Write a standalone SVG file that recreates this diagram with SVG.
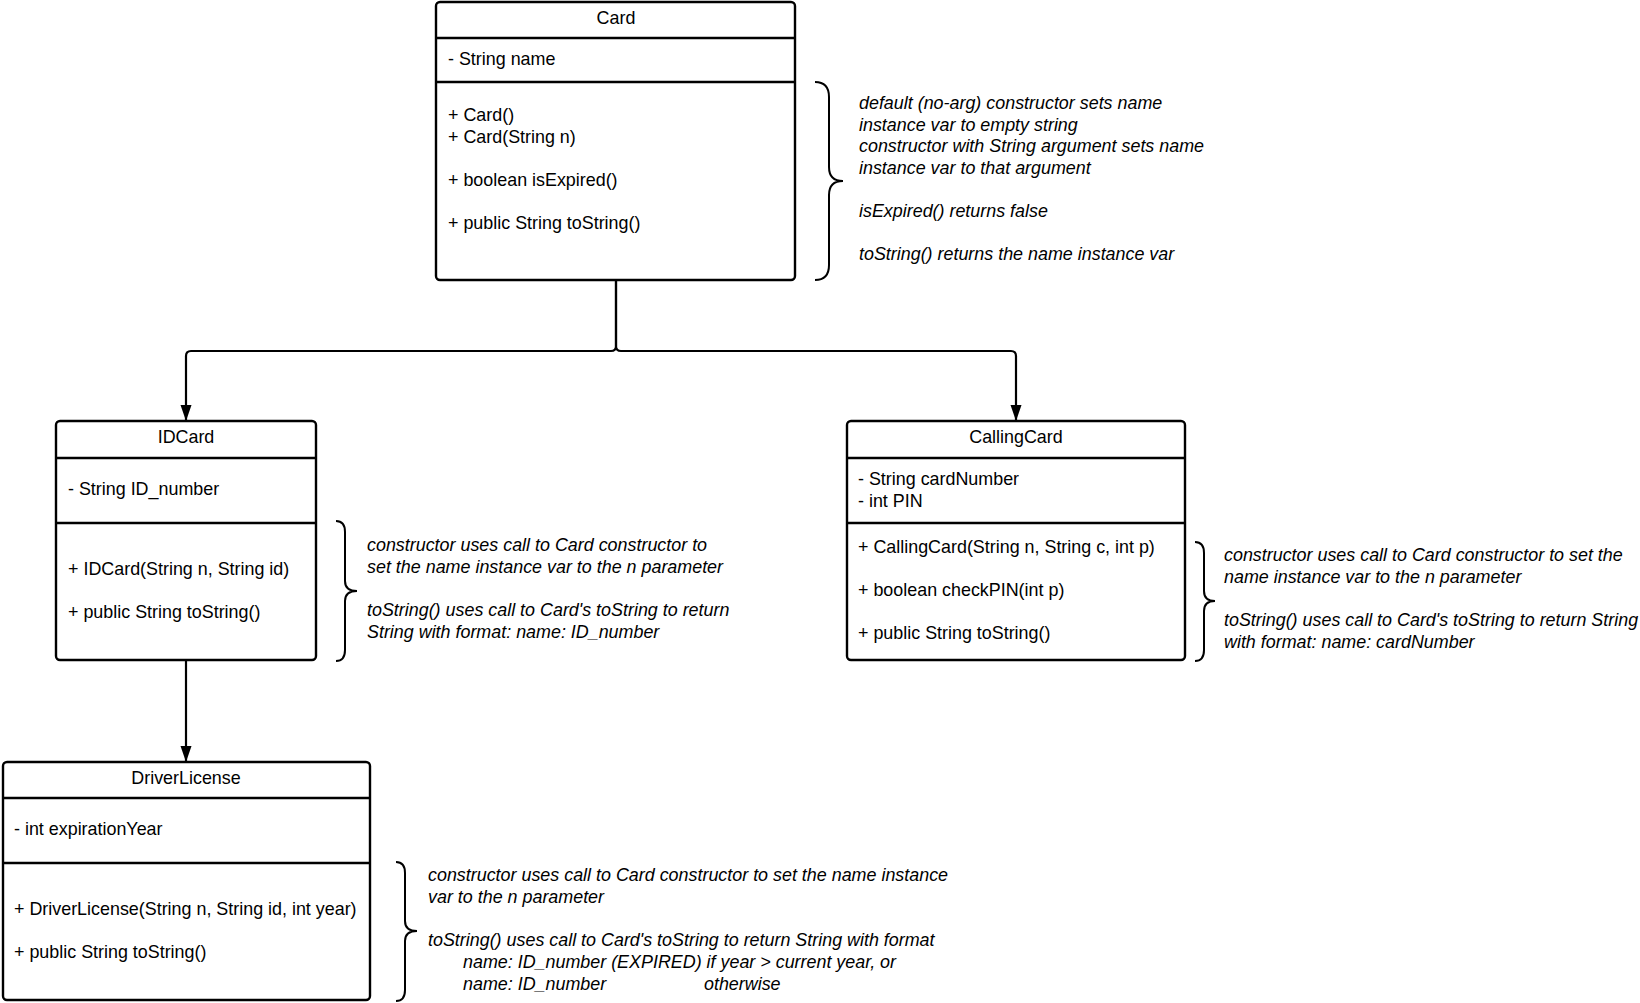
<svg xmlns="http://www.w3.org/2000/svg" width="1640" height="1003" viewBox="0 0 1640 1003">
<style>
  .box { fill: #ffffff; stroke: #000000; stroke-width: 2.4; }
  .div { stroke: #000000; stroke-width: 2.4; }
  .t { font-family: "Liberation Sans", Arial, sans-serif; font-size: 17.9px; fill: #000000; }
  .c { text-anchor: middle; }
  .n { font-family: "Liberation Sans", Arial, sans-serif; font-size: 17.9px; font-style: italic; fill: #000000; }
  .brace { fill: none; stroke: #000000; stroke-width: 2; }
  .conn { fill: none; stroke: #000000; stroke-width: 2.2; }
</style>
<defs>
  <marker id="arrow" viewBox="0 0 16 12" refX="16" refY="6" markerWidth="16" markerHeight="12" markerUnits="userSpaceOnUse" orient="auto">
    <path d="M0,0.5 L16,6 L0,11.5 Z" fill="#000000"/>
  </marker>
</defs>

<g id="connectors">
  <path class="conn" d="M616,281 V346 Q616,351 611,351 H191 Q186,351 186,356 V421" marker-end="url(#arrow)"/>
  <path class="conn" d="M616,281 V346 Q616,351 621,351 H1011 Q1016,351 1016,356 V421" marker-end="url(#arrow)"/>
  <path class="conn" d="M186,661 V762" marker-end="url(#arrow)"/>
</g>

<g id="Card">
  <rect class="box" x="436" y="2" width="359" height="278" rx="4"/>
  <line class="div" x1="436" y1="38" x2="795" y2="38"/>
  <line class="div" x1="436" y1="82" x2="795" y2="82"/>
  <text class="t c" x="616" y="24">Card</text>
  <text class="t" x="448" y="65">- String name</text>
  <text class="t" x="448" y="121">+ Card()</text>
  <text class="t" x="448" y="143">+ Card(String n)</text>
  <text class="t" x="448" y="186">+ boolean isExpired()</text>
  <text class="t" x="448" y="229">+ public String toString()</text>
</g>

<g id="CardNote">
  <path class="brace" d="M815,82 C824,82 829,87 829,97 V167 C829,176 834,181 843,181 C834,181 829,186 829,195 V265 C829,275 824,280 815,280"/>
  <text class="n" x="859" y="109">default (no-arg) constructor sets name</text>
  <text class="n" x="859" y="131">instance var to empty string</text>
  <text class="n" x="859" y="152">constructor with String argument sets name</text>
  <text class="n" x="859" y="174">instance var to that argument</text>
  <text class="n" x="859" y="217">isExpired() returns false</text>
  <text class="n" x="859" y="260">toString() returns the name instance var</text>
</g>

<g id="IDCard">
  <rect class="box" x="56" y="421" width="260" height="239" rx="4"/>
  <line class="div" x1="56" y1="458" x2="316" y2="458"/>
  <line class="div" x1="56" y1="523" x2="316" y2="523"/>
  <text class="t c" x="186" y="443">IDCard</text>
  <text class="t" x="68" y="495">- String ID_number</text>
  <text class="t" x="68" y="575">+ IDCard(String n, String id)</text>
  <text class="t" x="68" y="618">+ public String toString()</text>
</g>

<g id="IDCardNote">
  <path class="brace" d="M336,521 C342,521 345,525 345,532 V581 C345,588 349,591 357,591 C349,591 345,594 345,601 V650 C345,657 342,661 336,661"/>
  <text class="n" x="367" y="551">constructor uses call to Card constructor to</text>
  <text class="n" x="367" y="573">set the name instance var to the n parameter</text>
  <text class="n" x="367" y="616">toString() uses call to Card's toString to return</text>
  <text class="n" x="367" y="638">String with format: name: ID_number</text>
</g>

<g id="CallingCard">
  <rect class="box" x="847" y="421" width="338" height="239" rx="4"/>
  <line class="div" x1="847" y1="458" x2="1185" y2="458"/>
  <line class="div" x1="847" y1="523" x2="1185" y2="523"/>
  <text class="t c" x="1016" y="443">CallingCard</text>
  <text class="t" x="858" y="485">- String cardNumber</text>
  <text class="t" x="858" y="507">- int PIN</text>
  <text class="t" x="858" y="553">+ CallingCard(String n, String c, int p)</text>
  <text class="t" x="858" y="596">+ boolean checkPIN(int p)</text>
  <text class="t" x="858" y="639">+ public String toString()</text>
</g>

<g id="CallingCardNote">
  <path class="brace" d="M1195,542 C1201,542 1204,546 1204,553 V591 C1204,598 1208,601 1215,601 C1208,601 1204,604 1204,611 V650 C1204,657 1201,661 1195,661"/>
  <text class="n" x="1224" y="561">constructor uses call to Card constructor to set the</text>
  <text class="n" x="1224" y="583">name instance var to the n parameter</text>
  <text class="n" x="1224" y="626">toString() uses call to Card's toString to return String</text>
  <text class="n" x="1224" y="648">with format: name: cardNumber</text>
</g>

<g id="DriverLicense">
  <rect class="box" x="3" y="762" width="367" height="238" rx="4"/>
  <line class="div" x1="3" y1="798" x2="370" y2="798"/>
  <line class="div" x1="3" y1="863" x2="370" y2="863"/>
  <text class="t c" x="186" y="784">DriverLicense</text>
  <text class="t" x="14" y="835">- int expirationYear</text>
  <text class="t" x="14" y="915">+ DriverLicense(String n, String id, int year)</text>
  <text class="t" x="14" y="958">+ public String toString()</text>
</g>

<g id="DriverLicenseNote">
  <path class="brace" d="M396,862 C402,862 405,866 405,873 V921 C405,928 409,931 417,931 C409,931 405,934 405,941 V990 C405,997 402,1001 396,1001"/>
  <text class="n" x="428" y="881">constructor uses call to Card constructor to set the name instance</text>
  <text class="n" x="428" y="903">var to the n parameter</text>
  <text class="n" x="428" y="946">toString() uses call to Card's toString to return String with format</text>
  <text class="n" x="463" y="968">name: ID_number (EXPIRED) if year &gt; current year, or</text>
  <text class="n" x="463" y="990">name: ID_number</text>
  <text class="n" x="704" y="990">otherwise</text>
</g>
</svg>
